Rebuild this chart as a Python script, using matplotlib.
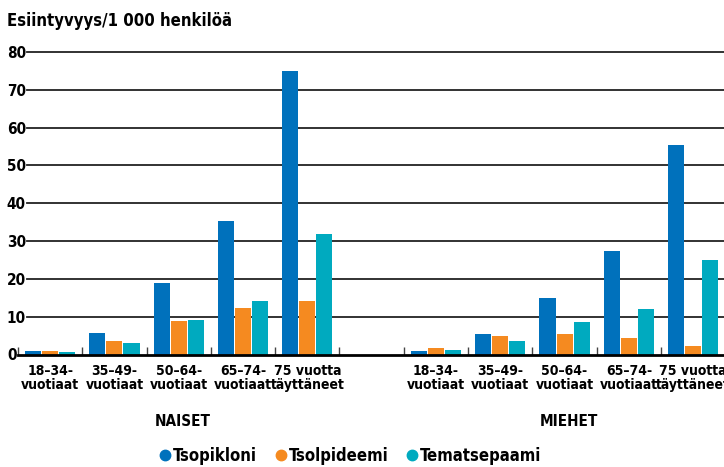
import matplotlib
matplotlib.use("Agg")
import matplotlib.pyplot as plt
from matplotlib.lines import Line2D
import numpy as np

plt.rcParams['font.family'] = ['DejaVu Sans']
plt.rcParams['font.stretch'] = 'condensed'
plt.rcParams['font.weight'] = 'bold'

age_groups = ["18–34-\nvuotiaat", "35–49-\nvuotiaat", "50–64-\nvuotiaat",
              "65–74-\nvuotiaat", "75 vuotta\ntäyttäneet"]
series = ["Tsopikloni", "Tsolpideemi", "Tematsepaami"]
colors = ["#0071BC", "#F58A20", "#00AABF"]

# naiset (women)
naiset_tsopikloni = [0.9, 5.7, 18.9, 35.3, 75.0]
naiset_tsolpideemi = [0.9, 3.6, 8.9, 12.3, 14.1]
naiset_tematsepaami = [0.6, 3.0, 9.1, 14.1, 31.9]

# miehet (men)
miehet_tsopikloni = [0.9, 5.4, 14.9, 27.4, 55.4]
miehet_tsolpideemi = [1.7, 4.9, 5.4, 4.4, 2.2]
miehet_tematsepaami = [1.2, 3.6, 8.6, 12.0, 25.0]

yticks = [0, 10, 20, 30, 40, 50, 60, 70, 80]

fig = plt.figure(figsize=(7.24, 4.67), dpi=100, facecolor='white')
ax = fig.add_axes([18 / 724, 112.5 / 467, 706 / 724, 310 / 467])

x_n = np.arange(5)
x_m = np.arange(5) + 6
width = 0.25
step = 0.265

naiset = [naiset_tsopikloni, naiset_tsolpideemi, naiset_tematsepaami]
miehet = [miehet_tsopikloni, miehet_tsolpideemi, miehet_tematsepaami]
for i in range(3):
    ax.bar(x_n + (i - 1) * step, naiset[i], width, color=colors[i], zorder=3)
    ax.bar(x_m + (i - 1) * step, miehet[i], width, color=colors[i], zorder=3)

ax.set_xlim(-0.5, 10.48)
ax.set_ylim(0, 82)

for y in yticks[1:]:
    ax.axhline(y, xmin=9 / 706, xmax=1, color='#222222', linewidth=1.3, zorder=1)

ax.set_yticks(yticks)
ax.set_yticklabels([str(v) for v in yticks], fontsize=11, fontweight='bold', ha='left')
ax.tick_params(axis='y', length=0, pad=8)

ax.set_xticks(list(x_n) + list(x_m))
ax.set_xticklabels(age_groups + age_groups, fontsize=10, fontweight='bold', linespacing=1.0)
ax.tick_params(axis='x', which='major', length=0, pad=7)
ax.set_xticks(np.arange(-0.5, 10.5, 1.0), minor=True)
ax.tick_params(axis='x', which='minor', direction='in', length=5.5, width=1, color='#444444')

for s in ['top', 'right', 'left']:
    ax.spines[s].set_visible(False)
ax.spines['bottom'].set_linewidth(2)
ax.spines['bottom'].set_color('black')
ax.spines['bottom'].set_zorder(4)

ax.text(2.07, -0.215, "NAISET", transform=ax.get_xaxis_transform(),
        ha='center', va='center', fontsize=11, fontweight='bold')
ax.text(8.07, -0.215, "MIEHET", transform=ax.get_xaxis_transform(),
        ha='center', va='center', fontsize=11, fontweight='bold')

fig.text(7 / 724, 1 - 26 / 467, "Esiintyvyys/1 000 henkilöä", fontsize=12,
         fontweight='bold', va='baseline', ha='left')

handles = [Line2D([], [], marker='o', linestyle='none', markersize=7.5,
                  markerfacecolor=c, markeredgecolor=c) for c in colors]
fig.legend(handles, series, loc='center', bbox_to_anchor=(0.485, 1 - 456 / 467),
           ncol=3, frameon=False, handlelength=0.5,
           handletextpad=0.2, columnspacing=1.2, borderpad=0,
           prop={'weight': 'bold', 'size': 12, 'stretch': 'condensed'})

fig.savefig("out.png", dpi=100, facecolor='white')
